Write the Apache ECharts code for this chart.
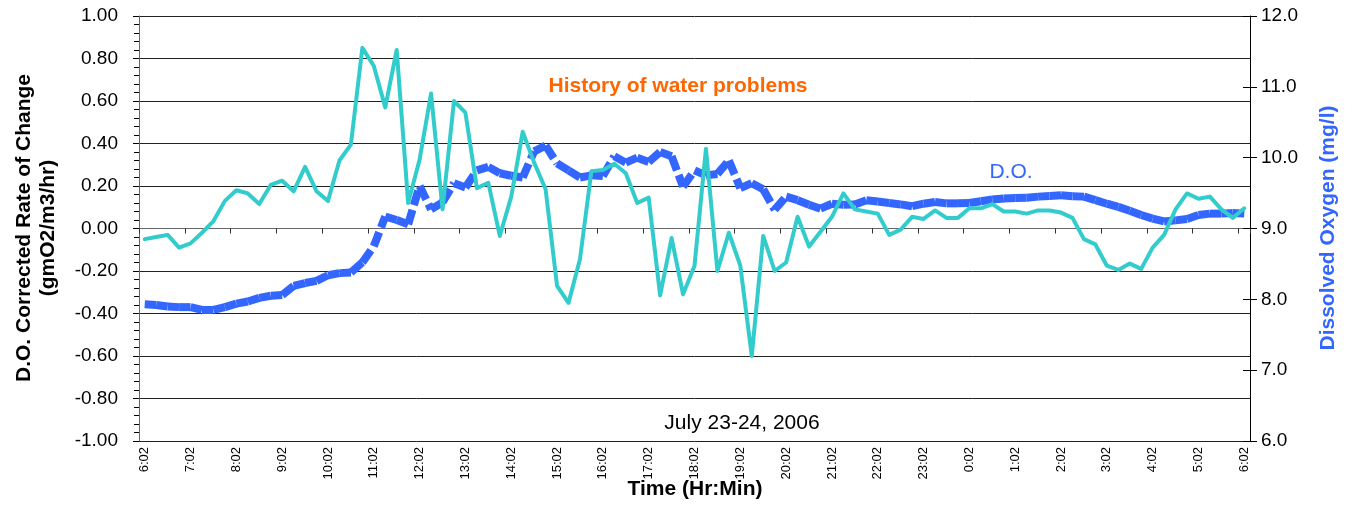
<!DOCTYPE html>
<html><head><meta charset="utf-8">
<script src="https://cdn.jsdelivr.net/npm/echarts@6/dist/echarts.min.js"></script>
<style>html,body{margin:0;padding:0;background:#fff}#c{width:1358px;height:506px}</style>
</head><body><div id="c"></div>
<script>
const times = [
 '6:02','6:17','6:32','6:47','7:02','7:17','7:32','7:47','8:02','8:17','8:32','8:47',
 '9:02','9:17','9:32','9:47','10:02','10:17','10:32','10:47','11:02','11:17','11:32','11:47',
 '12:02','12:17','12:32','12:47','13:02','13:17','13:32','13:47','14:02','14:17','14:32','14:47',
 '15:02','15:17','15:32','15:47','16:02','16:17','16:32','16:47','17:02','17:17','17:32','17:47',
 '18:02','18:17','18:32','18:47','19:02','19:17','19:32','19:47','20:02','20:17','20:32','20:47',
 '21:02','21:17','21:32','21:47','22:02','22:17','22:32','22:47','23:02','23:17','23:32','23:47',
 '0:02','0:17','0:32','0:47','1:02','1:17','1:32','1:47','2:02','2:17','2:32','2:47',
 '3:02','3:17','3:32','3:47','4:02','4:17','4:32','4:47','5:02','5:17','5:32','5:47','6:02'
];
// D.O. corrected rate of change (gmO2/m3/hr), left axis
const rateOfChange = [
 -0.05,-0.04,-0.03,-0.09,-0.07,-0.02,0.035,0.13,0.18,0.165,0.115,0.205,
 0.225,0.175,0.29,0.175,0.13,0.32,0.395,0.85,0.765,0.57,0.84,0.12,
 0.325,0.635,0.09,0.60,0.545,0.19,0.215,-0.035,0.15,0.455,0.31,0.185,
 -0.27,-0.35,-0.145,0.27,0.275,0.305,0.26,0.12,0.145,-0.315,-0.045,-0.31,
 -0.175,0.375,-0.20,-0.02,-0.175,-0.60,-0.035,-0.20,-0.16,0.055,-0.085,-0.015,
 0.055,0.165,0.09,0.08,0.07,-0.03,-0.005,0.055,0.045,0.085,0.05,0.05,
 0.095,0.095,0.115,0.08,0.08,0.07,0.085,0.085,0.075,0.05,-0.05,-0.075,
 -0.175,-0.195,-0.165,-0.19,-0.09,-0.03,0.09,0.165,0.14,0.15,0.09,0.05,0.095
];
// Dissolved oxygen (mg/l), right axis
const dissolvedOxygen = [
 7.93,7.92,7.90,7.89,7.89,7.85,7.85,7.89,7.94,7.97,8.02,8.05,
 8.06,8.19,8.23,8.26,8.34,8.37,8.38,8.52,8.75,9.17,9.12,9.06,
 9.60,9.27,9.37,9.64,9.58,9.82,9.87,9.78,9.745,9.72,10.09,10.17,
 9.92,9.82,9.72,9.75,9.74,10.02,9.93,10.00,9.94,10.08,10.02,9.59,
 9.82,9.75,9.77,9.96,9.57,9.64,9.555,9.265,9.45,9.40,9.335,9.28,
 9.35,9.335,9.34,9.40,9.38,9.36,9.34,9.315,9.35,9.375,9.355,9.355,
 9.36,9.385,9.41,9.425,9.43,9.435,9.45,9.46,9.47,9.455,9.45,9.40,
 9.35,9.305,9.25,9.19,9.14,9.10,9.115,9.135,9.19,9.21,9.21,9.22,9.21
];
const leftTicks = {min:-1, max:1, interval:0.2};
const rightTicks = {min:6, max:12, interval:1};

const FONT = 'Liberation Sans, Arial, sans-serif';
const chart = echarts.init(document.getElementById('c'), null, {renderer:'canvas'});

// D.O. drawn segment by segment so each segment restarts its dash pattern
const doSegments = [];
for (let i = 0; i < dissolvedOxygen.length - 1; i++) {
  const d = dissolvedOxygen.map((v, k) => (k === i || k === i + 1) ? v : null);
  doSegments.push({
    type:'line', yAxisIndex:1, data:d, symbol:'none', silent:true, z:2,
    connectNulls:false, animation:false,
    lineStyle:{color:'#3366FF', width:8, type:[15,5], cap:'butt', join:'miter'}
  });
}

chart.setOption({
  animation:false,
  backgroundColor:'#fff',
  grid:{left:139, right:108, top:16, bottom:65, containLabel:false},
  xAxis:{
    type:'category', data:times, boundaryGap:true,
    axisLine:{show:true, lineStyle:{color:'#666', width:1}},
    axisTick:{show:true, interval:3, length:5, lineStyle:{color:'#333'}},
    axisLabel:{interval:3, rotate:90, fontSize:13, color:'#000', margin:6, fontFamily:FONT},
    splitLine:{show:false}
  },
  yAxis:[
    {type:'value', position:'left', min:leftTicks.min, max:leftTicks.max, interval:leftTicks.interval,
     axisLine:{show:true, lineStyle:{color:'#666', width:1}},
     axisTick:{show:true, length:6, lineStyle:{color:'#000'}},
     minorTick:{show:true, splitNumber:5, length:5, lineStyle:{color:'#000'}},
     axisLabel:{fontSize:19, color:'#000', margin:21, fontFamily:FONT, formatter:v=>v.toFixed(2)},
     splitLine:{show:true, lineStyle:{color:'#222', width:1}}},
    {type:'value', position:'right', min:rightTicks.min, max:rightTicks.max, interval:rightTicks.interval,
     axisLine:{show:true, lineStyle:{color:'#000', width:1}},
     axisTick:{show:true, inside:false, length:7, lineStyle:{color:'#000'}},
     axisLabel:{fontSize:19, color:'#000', margin:11, fontFamily:FONT, formatter:v=>v.toFixed(1)},
     splitLine:{show:false}},
    {type:'value', position:'right', min:rightTicks.min, max:rightTicks.max, interval:rightTicks.interval,
     axisLine:{show:false},
     axisTick:{show:true, inside:true, length:7, lineStyle:{color:'#000'}},
     axisLabel:{show:false}, splitLine:{show:false}}
  ],
  series:[
    ...doSegments,
    {type:'line', yAxisIndex:0, data:rateOfChange, symbol:'none', z:3, silent:true,
     lineStyle:{color:'#33CCCC', width:4, join:'round', cap:'round'}}
  ],
  graphic:[
    {type:'text', x:24, y:228, rotation:Math.PI/2, style:{text:'D.O. Corrected Rate of Change', font:'bold 21px '+FONT, fill:'#000', textAlign:'center', textVerticalAlign:'middle'}},
    {type:'text', x:48, y:228, rotation:Math.PI/2, style:{text:'(gmO2/m3/hr)', font:'bold 21px '+FONT, fill:'#000', textAlign:'center', textVerticalAlign:'middle'}},
    {type:'text', x:1328, y:228, rotation:Math.PI/2, style:{text:'Dissolved Oxygen (mg/l)', font:'bold 21px '+FONT, fill:'#3366FF', textAlign:'center', textVerticalAlign:'middle'}},
    {type:'text', x:695, y:489, style:{text:'Time (Hr:Min)', font:'bold 21px '+FONT, fill:'#000', textAlign:'center', textVerticalAlign:'middle'}},
    {type:'text', x:678, y:86, style:{text:'History of water problems', font:'bold 21px '+FONT, fill:'#FF6600', textAlign:'center', textVerticalAlign:'middle'}},
    {type:'text', x:1011, y:172, style:{text:'D.O.', font:'21px '+FONT, fill:'#3366FF', textAlign:'center', textVerticalAlign:'middle'}},
    {type:'text', x:742, y:423, style:{text:'July 23-24, 2006', font:'21px '+FONT, fill:'#000', textAlign:'center', textVerticalAlign:'middle'}}
  ]
});
</script>
</body></html>
